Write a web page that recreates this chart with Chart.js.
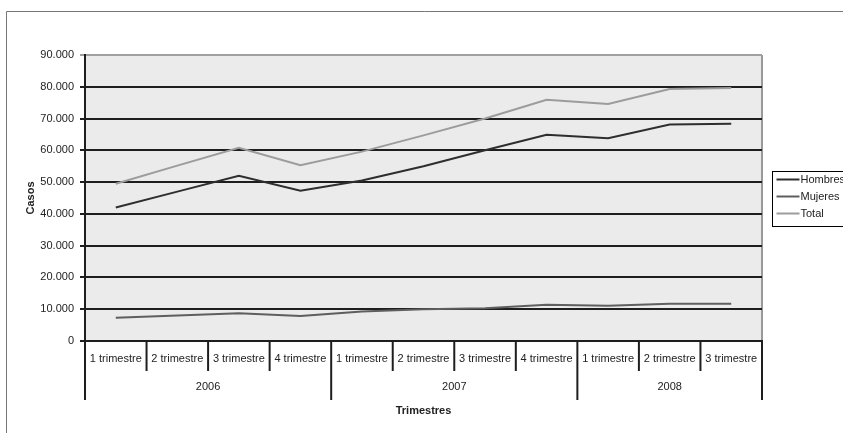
<!DOCTYPE html>
<html>
<head>
<meta charset="utf-8">
<script src="https://cdn.jsdelivr.net/npm/chart.js@4/dist/chart.umd.min.js"></script>
<style>
  html, body { margin: 0; padding: 0; background: #fff; }
  #wrap { width: 843px; height: 433px; position: relative; }
</style>
</head>
<body>
<div id="wrap"><canvas id="c" width="843" height="433"></canvas></div>
<script>
// ---- Data ----
const quarters = ['1 trimestre','2 trimestre','3 trimestre','4 trimestre',
                  '1 trimestre','2 trimestre','3 trimestre','4 trimestre',
                  '1 trimestre','2 trimestre','3 trimestre'];
const years = ['2006', '2007', '2008'];
const quartersPerYear = [4, 4, 3];
const hombres = [42000, 47000, 52000, 47300, 50500, 55000, 60000, 64900, 63800, 68100, 68400];
const mujeres = [7300, 8000, 8700, 7900, 9300, 10000, 10300, 11400, 11100, 11700, 11700];
const total   = [49500, 55200, 60800, 55300, 59600, 64700, 70000, 75900, 74600, 79300, 79600];
const yTicksMax = 90000;
const yTickStep = 10000;

Chart.defaults.font.family = "'Liberation Sans', Arial, sans-serif";
Chart.defaults.font.size = 11;
Chart.defaults.color = '#222';

function fmt(v) {
  return String(v).replace(/\B(?=(\d{3})+(?!\d))/g, '.');
}

const decor = {
  id: 'decor',
  beforeDraw(chart) {
    const {ctx, chartArea: a} = chart;
    ctx.save();
    // outer frame
    ctx.strokeStyle = '#777';
    ctx.lineWidth = 1;
    ctx.beginPath();
    ctx.moveTo(6.5, 433); ctx.lineTo(6.5, 11.5); ctx.lineTo(843, 11.5);
    ctx.stroke();
    // plot background
    ctx.fillStyle = '#ebebeb';
    ctx.fillRect(a.left, a.top, a.right - a.left, a.bottom - a.top);
    // right border
    ctx.strokeStyle = '#999';
    ctx.lineWidth = 2;
    ctx.beginPath();
    ctx.moveTo(a.right, a.top); ctx.lineTo(a.right, a.bottom);
    ctx.stroke();
    ctx.restore();
  },
  afterDraw(chart) {
    const {ctx, chartArea: a} = chart;
    const xs = chart.scales.x;
    ctx.save();
    const n = quarters.length;
    const centers = quarters.map((_, i) => xs.getPixelForValue(i));
    const bounds = [a.left];
    for (let i = 0; i < n - 1; i++) bounds.push((centers[i] + centers[i + 1]) / 2);
    bounds.push(a.right);
    // year boundary indices
    const yearEdges = [0];
    let acc = 0;
    quartersPerYear.forEach(c => { acc += c; yearEdges.push(acc); });
    ctx.strokeStyle = '#1e1e1e';
    ctx.lineWidth = 2;
    bounds.forEach((bx, i) => {
      const long = yearEdges.includes(i);
      ctx.beginPath();
      ctx.moveTo(bx, a.bottom);
      ctx.lineTo(bx, a.bottom + (long ? 59 : 30));
      ctx.stroke();
    });
    // quarter labels
    ctx.fillStyle = '#222';
    ctx.font = "11px 'Liberation Sans', Arial, sans-serif";
    ctx.textAlign = 'center';
    ctx.textBaseline = 'middle';
    quarters.forEach((q, i) => ctx.fillText(q, centers[i], a.bottom + 17.5));
    // year labels
    years.forEach((y, k) => {
      const x0 = bounds[yearEdges[k]], x1 = bounds[yearEdges[k + 1]];
      ctx.fillText(y, (x0 + x1) / 2, a.bottom + 46);
    });
    // legend
    const lx = a.right + 10.5, ly = 171.5;
    ctx.strokeStyle = '#000';
    ctx.lineWidth = 1;
    ctx.strokeRect(lx, ly, 120, 55);
    ctx.textAlign = 'left';
    chart.data.datasets.forEach((ds, i) => {
      const yy = ly + 8 + i * 17;
      ctx.strokeStyle = ds.borderColor;
      ctx.lineWidth = 2;
      ctx.beginPath();
      ctx.moveTo(lx + 4, yy); ctx.lineTo(lx + 27, yy);
      ctx.stroke();
      ctx.fillStyle = '#222';
      ctx.fillText(ds.label, lx + 28, yy);
    });
    ctx.restore();
  }
};

new Chart(document.getElementById('c'), {
  type: 'line',
  data: {
    labels: quarters,
    datasets: [
      { label: 'Hombres', data: hombres, borderColor: '#2e2e2e', borderWidth: 2, pointRadius: 0, tension: 0 },
      { label: 'Mujeres', data: mujeres, borderColor: '#5e5e5e', borderWidth: 2, pointRadius: 0, tension: 0 },
      { label: 'Total',   data: total,   borderColor: '#9c9c9c', borderWidth: 2, pointRadius: 0, tension: 0 }
    ]
  },
  options: {
    responsive: false,
    animation: false,
    devicePixelRatio: 1,
    layout: { padding: { top: 55, right: 81, left: 0, bottom: 0 } },
    plugins: { legend: { display: false }, tooltip: { enabled: false } },
    scales: {
      x: {
        offset: true,
        grid: { display: true, drawOnChartArea: false, drawTicks: false },
        border: { display: true, color: '#1e1e1e', width: 2 },
        ticks: { display: false },
        title: { display: true, text: 'Trimestres', font: { weight: 'bold', size: 11 }, color: '#222', padding: { top: 0, bottom: 15.4 } },
        afterFit(s) { s.height = 92; }
      },
      y: {
        min: 0, max: yTicksMax,
        grid: {
          color: c => (c.tick && c.tick.value === yTicksMax) ? '#a0a0a0' : '#1e1e1e',
          lineWidth: 2, tickLength: 5, drawTicks: true
        },
        border: { display: true, color: '#1e1e1e', width: 2 },
        ticks: { stepSize: yTickStep, padding: 6, callback: v => fmt(v), color: '#222' },
        title: { display: true, text: 'Casos', font: { weight: 'bold', size: 11 }, color: '#222', padding: { top: 24.4, bottom: 0 } },
        afterFit(s) { s.width = 85; }
      }
    }
  },
  plugins: [decor]
});
</script>
</body>
</html>
